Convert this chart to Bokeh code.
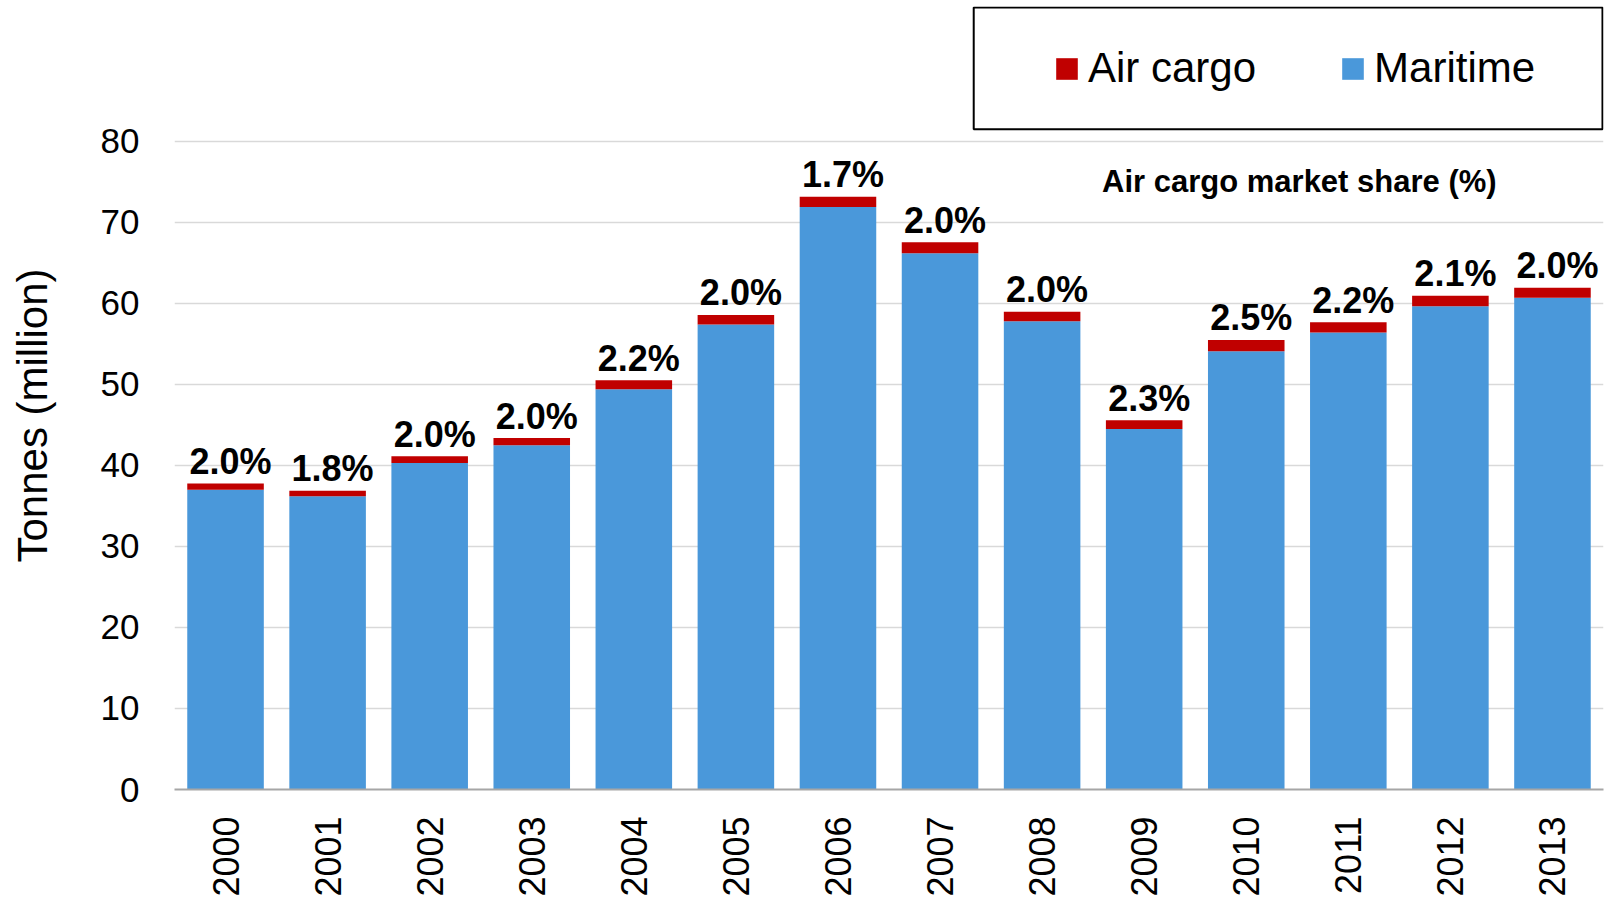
from math import pi
from bokeh.plotting import figure
from bokeh.models import (ColumnDataSource, FixedTicker, Legend, LegendItem,
                          Label, BoxAnnotation)
from bokeh.embed import file_html
from bokeh.resources import INLINE

# ---- data ----
years = [2000, 2001, 2002, 2003, 2004, 2005, 2006, 2007, 2008, 2009, 2010, 2011, 2012, 2013]
maritime = [37.0, 36.2, 40.3, 42.5, 49.4, 57.4, 71.9, 66.2, 57.8, 44.5, 54.1, 56.4, 59.65, 60.7]
air_cargo = [0.76, 0.67, 0.82, 0.87, 1.11, 1.17, 1.25, 1.35, 1.18, 1.06, 1.39, 1.27, 1.28, 1.24]
share_labels = ["2.0%", "1.8%", "2.0%", "2.0%", "2.2%", "2.0%", "1.7%",
                "2.0%", "2.0%", "2.3%", "2.5%", "2.2%", "2.1%", "2.0%"]
y_ticks = [0, 10, 20, 30, 40, 50, 60, 70, 80]

BLUE = "#4A98DA"
RED = "#C00000"
FONT = "Liberation Sans"

total = [m + a for m, a in zip(maritime, air_cargo)]
src = ColumnDataSource(dict(year=years, maritime=maritime, air=air_cargo,
                            total=total, share=share_labels))

p = figure(width=1604, height=899,
           x_range=(1999.5, 2013.5), y_range=(0, 96.64),
           output_backend="svg", toolbar_location=None,
           min_border_left=174, min_border_right=1,
           min_border_top=6, min_border_bottom=100,
           outline_line_color=None, background_fill_color="white")

# bars
blue_r = p.vbar(x="year", width=0.75, bottom=0, top="maritime", source=src,
                fill_color=BLUE, line_color=None)
red_r = p.vbar(x="year", width=0.75, bottom="maritime", top="total", source=src,
               fill_color=RED, line_color=None)

# percent labels
p.text(x="year", y="total", text="share", source=src,
       text_font={"value": FONT}, text_font_style="bold", text_font_size="36px",
       text_align="center", text_baseline="alphabetic", x_offset=5, y_offset=-22,
       text_color="black")

# x axis
p.xaxis.ticker = FixedTicker(ticks=years)
p.xaxis.major_label_overrides = {y: str(y) for y in years}
p.xaxis.major_label_orientation = pi / 2
p.xaxis.axis_line_color = "#A6A6A6"
p.xaxis.axis_line_width = 2
p.xaxis.major_tick_line_color = None
p.xaxis.minor_tick_line_color = None
p.xaxis.major_label_text_font = FONT
p.xaxis.major_label_text_font_size = "36px"
p.xaxis.major_label_text_color = "black"
p.xaxis.major_label_standoff = 21

# y axis
p.yaxis.ticker = FixedTicker(ticks=y_ticks)
p.yaxis.axis_line_color = None
p.yaxis.major_tick_line_color = None
p.yaxis.minor_tick_line_color = None
p.yaxis.major_label_text_font = FONT
p.yaxis.major_label_text_font_size = "35px"
p.yaxis.major_label_text_color = "black"
p.yaxis.major_label_standoff = 29
p.yaxis.axis_label = "Tonnes (million)   "
p.yaxis.axis_label_text_font = FONT
p.yaxis.axis_label_text_font_size = "42px"
p.yaxis.axis_label_text_font_style = "normal"
p.yaxis.axis_label_text_color = "black"
p.yaxis.axis_label_standoff = 42

p.ygrid.ticker = FixedTicker(ticks=y_ticks)
p.ygrid.grid_line_color = "#D9D9D9"
p.ygrid.grid_line_width = 1.5
p.xgrid.visible = False

p.add_layout(Label(x=2010.52, y=74.99, text="Air cargo market share (%)",
                   text_align="center", text_baseline="alphabetic",
                   text_font=FONT, text_font_style="bold", text_font_size="31px",
                   text_color="black"))

# legend box + legend
p.add_layout(BoxAnnotation(left=2007.33, right=2013.49, top=96.52, bottom=81.48,
                           fill_color=None, line_color="black", line_alpha=1.0,
                           line_width=2))
legend = Legend(items=[LegendItem(label="Air cargo", renderers=[red_r]),
                       LegendItem(label="Maritime", renderers=[blue_r])],
                orientation="horizontal", location=(879, 697),
                glyph_width=27, glyph_height=27, label_standoff=8, spacing=83,
                padding=10, margin=0, border_line_color=None,
                background_fill_alpha=0,
                label_text_font=FONT, label_text_font_size="42px",
                label_text_color="black")
p.add_layout(legend)

open("out.html", "w").write(file_html(p, INLINE))
